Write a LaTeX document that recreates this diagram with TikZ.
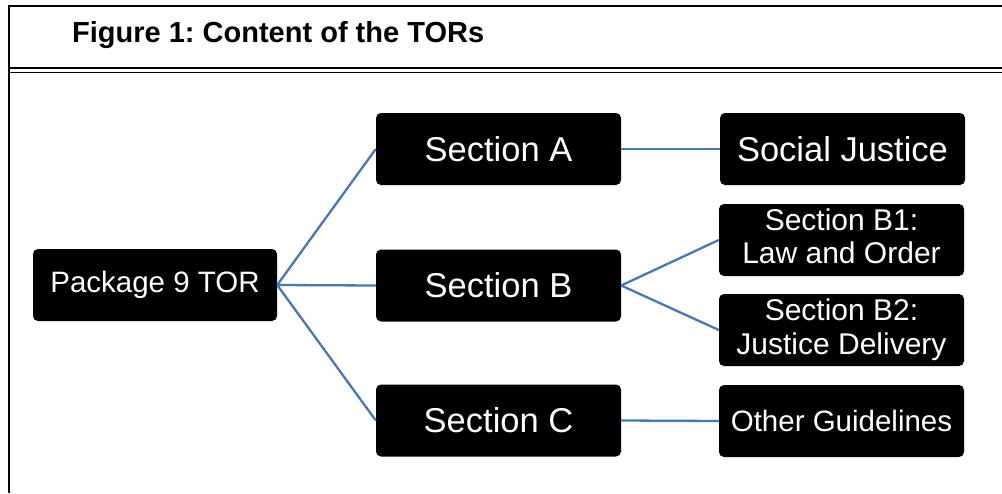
\documentclass[tikz,border=0pt]{standalone}
\usepackage{fontspec}
\setmainfont{Liberation Sans}
\definecolor{linkblue}{RGB}{72,120,180}
\frenchspacing
\begin{document}
\begin{tikzpicture}[x=1pt,y=-1pt,
  box/.style={fill=black, rounded corners=5pt, minimum width=245pt, minimum height=72pt, inner sep=0pt, text=white, align=center},
  big/.style={font=\fontsize{34.5}{40}\selectfont},
  mid/.style={font=\fontsize{30}{34}\selectfont},
  small/.style={font=\fontsize{29.5}{34}\selectfont},
  conn/.style={draw=linkblue, line width=2.3pt},
  frame/.style={draw=black, line width=1.8pt}]
\useasboundingbox (0,0) rectangle (1002,493);
\draw[frame] (9,493) -- (9,6) -- (1002,6);
\draw[frame] (9,68) -- (1002,68);
\draw[line width=1pt] (9,72) -- (1002,72);
\node[anchor=base west, inner sep=0pt, font=\bfseries\fontsize{29}{34}\selectfont] (title) at (72,42) {Figure 1: Content of the TORs};

\node[box, small, minimum width=244pt] (pkg) at (155,285) {\raisebox{5pt}{Package 9 TOR}};
\node[box, big] (secA) at (498.5,149) {Section A};
\node[box, big] (secB) at (498.5,285.5) {\raisebox{-1.5pt}{Section B}};
\node[box, big] (secC) at (498.5,420.5) {Section C};
\node[box, big] (soc) at (842.5,149) {Social Justice};
\node[box, mid] (b1) at (841.5,240) {\raisebox{1pt}{\begin{tabular}{@{}c@{}}Section B1:\\[-0.5pt]Law and Order\end{tabular}}};
\node[box, mid] (b2) at (841.5,330) {Section B2:\\Justice Delivery};
\node[box, small] (oth) at (841.5,421) {Other Guidelines};

\draw[conn] (pkg.east) -- (secA.west);
\draw[conn] (pkg.east) -- (secB.west);
\draw[conn] (pkg.east) -- (secC.west);
\draw[conn] (secA.east) -- (soc.west);
\draw[conn] (secB.east) -- (b1.west);
\draw[conn] (secB.east) -- (b2.west);
\draw[conn] (secC.east) -- (oth.west);
\end{tikzpicture}
\end{document}
